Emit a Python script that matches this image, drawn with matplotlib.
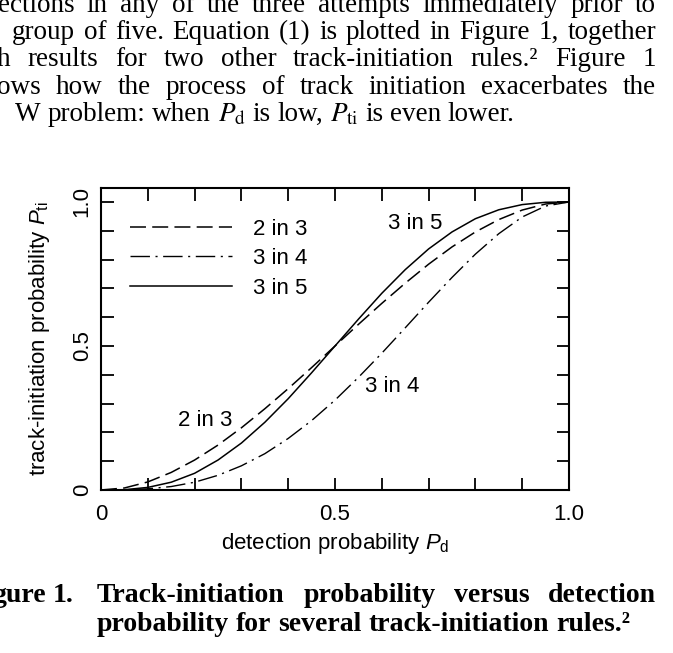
import matplotlib
matplotlib.use("Agg")
import matplotlib.pyplot as plt
from matplotlib.transforms import IdentityTransform

plt.rcParams['font.family'] = ['Liberation Sans', 'DejaVu Sans']
plt.rcParams['mathtext.fontset'] = 'custom'
plt.rcParams['mathtext.rm'] = 'Liberation Sans'
plt.rcParams['mathtext.it'] = 'Liberation Sans:italic'
plt.rcParams['lines.scale_dashes'] = False

# detection probability P_d (read every 0.05)
p_d = [0.00, 0.05, 0.10, 0.15, 0.20, 0.25, 0.30, 0.35, 0.40, 0.45, 0.50,
       0.55, 0.60, 0.65, 0.70, 0.75, 0.80, 0.85, 0.90, 0.95, 1.00]

# track-initiation probability P_ti for each rule
p_2in3 = [0.0, 0.007, 0.028, 0.061, 0.104, 0.156, 0.216, 0.282, 0.352, 0.425, 0.500,
          0.575, 0.648, 0.718, 0.784, 0.844, 0.896, 0.939, 0.972, 0.993, 1.0]
p_3in4 = [0.0, 0.0005, 0.004, 0.012, 0.027, 0.051, 0.084, 0.126, 0.179, 0.241, 0.312,
          0.391, 0.475, 0.563, 0.652, 0.738, 0.819, 0.890, 0.948, 0.986, 1.0]
p_3in5 = [0.0, 0.001, 0.009, 0.027, 0.058, 0.104, 0.163, 0.235, 0.317, 0.407, 0.500,
          0.593, 0.683, 0.765, 0.837, 0.896, 0.942, 0.973, 0.991, 0.999, 1.0]

rule_labels = ["2 in 3", "3 in 4", "3 in 5"]
tick_vals = [0, 0.5, 1.0]
tick_text = ["0", "0.5", "1.0"]

# page text around the figure
body_lines = [
    "ections in any of the three attempts immediately prior to",
    "group of five. Equation (1) is plotted in Figure 1, together",
    "h results for two other track-initiation rules.\u00b2 Figure 1",
    "ows how the process of track initiation exacerbates the",
    r"W problem: when $P_\mathrm{d}$ is low, $P_\mathrm{ti}$ is even lower.",
]
caption_head = "gure 1."
caption_lines = [
    "Track-initiation probability versus detection",
    "probability for several track-initiation rules.\u00b2",
]

W, H = 673, 653
FS = 16
fig = plt.figure(figsize=(W / 100, H / 100), dpi=100)
ax = fig.add_axes([101 / W, 1 - 490 / H, 468 / W, 302 / H])

ax.plot(p_d, p_2in3, color='black', lw=1.1, linestyle=(0, (11.5, 4.5)), label=rule_labels[0])
ax.plot(p_d, p_3in4, color='black', lw=1.0, linestyle=(0, (14, 4, 1.5, 4)), label=rule_labels[1])
ax.plot(p_d, p_3in5, color='black', lw=1.1, linestyle='-', label=rule_labels[2])

ax.set_xlim(0, 1)
ax.set_ylim(0, 1.0486)
ax.set_xticks(tick_vals)
ax.set_xticklabels(tick_text)
ax.set_yticks(tick_vals)
ax.set_yticklabels(tick_text, rotation=90, va='center')
ax.set_xticks([i / 10 for i in range(11)], minor=True)
ax.set_yticks([i / 10 for i in range(11)], minor=True)
ax.tick_params(which='both', direction='in', length=9, width=1.3,
               top=True, right=True, labelsize=FS)
ax.tick_params(axis='x', pad=10)
ax.tick_params(axis='y', pad=6)
for s in ax.spines.values():
    s.set_linewidth(1.5)

ax.set_xlabel(r"detection probability $P_\mathrm{d}$", fontsize=FS, va='baseline')
ax.xaxis.set_label_coords(0.5, (490 - 549) / 302)
ax.set_ylabel(r"track-initiation probability $P_\mathrm{ti}$", fontsize=FS, va='center')
ax.yaxis.set_label_coords((40 - 101) / 468, 0.5)

ax.legend(loc='upper left', bbox_to_anchor=(0.062, 0.898), frameon=False,
          fontsize=FS, handlelength=4.6, handletextpad=0.95, labelspacing=0.38,
          borderpad=0, borderaxespad=0)

ax.text(0.165, 0.243, rule_labels[0], fontsize=FS, va='center')
ax.text(0.564, 0.358, rule_labels[1], fontsize=FS, va='center')
ax.text(0.613, 0.927, rule_labels[2], fontsize=FS, va='center')

renderer = fig.canvas.get_renderer()


def put_line(line, x0, x1, y_top, justify=True, **kw):
    words = line.split(" ")
    texts = [fig.text(0, H - y_top, w, transform=IdentityTransform(),
                      va='baseline', ha='left', **kw) for w in words]
    widths = [t.get_window_extent(renderer).width for t in texts]
    if justify and len(words) > 1:
        gap = (x1 - x0 - sum(widths)) / (len(words) - 1)
    else:
        gap = 0.25 * kw.get('fontsize', 19) * 100 / 72
    x = x0
    for t, w in zip(texts, widths):
        t.set_x(x)
        x += w + gap


body_kw = dict(family=['Liberation Serif', 'DejaVu Serif'], fontsize=19.5,
               math_fontfamily='stix')
put_line(body_lines[0], -2, 656, 12, **body_kw)
put_line(body_lines[1], 12, 656, 39, **body_kw)
put_line(body_lines[2], -3, 656, 66, **body_kw)
put_line(body_lines[3], -3, 656, 94, **body_kw)
put_line(body_lines[4], 15, 656, 121, justify=False, **body_kw)

cap_kw = dict(family=['Liberation Serif', 'DejaVu Serif'], fontsize=20, weight='bold')
put_line(caption_head, -8, 80, 602, justify=False, **cap_kw)
put_line(caption_lines[0], 97, 656, 602, **cap_kw)
put_line(caption_lines[1], 97, 656, 631, justify=False, **cap_kw)

fig.savefig("out.png", dpi=100)
